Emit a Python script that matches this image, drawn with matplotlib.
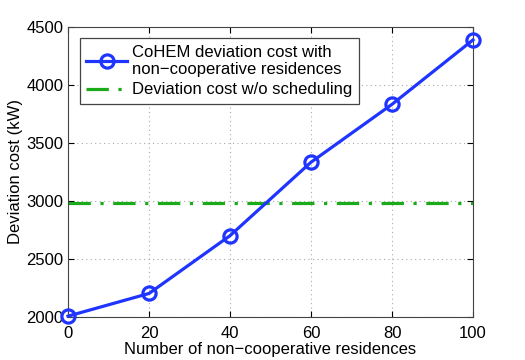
import numpy as np
import matplotlib
matplotlib.use("Agg")
import matplotlib.pyplot as plt

plt.rcParams['font.family'] = ['Liberation Sans', 'DejaVu Sans']

n_noncoop = [0, 20, 40, 60, 80, 100]
cohem_cost = [2010, 2205, 2702, 3334, 3832, 4386]
baseline_cost = 2985

fig = plt.figure(figsize=(5.25, 3.6), dpi=100)
ax = fig.add_axes([0.1295, 0.1186, 0.7715, 0.8074])

ax.plot(n_noncoop, cohem_cost, color='#1f35ff', lw=2.3, marker='o', ms=9.5,
        mfc='none', mew=2.3, label='CoHEM deviation cost with\nnon\u2212cooperative residences',
        clip_on=False, zorder=3)
ax.plot(n_noncoop, [baseline_cost] * len(n_noncoop), color='#1aaa1a', lw=2.3,
        ls=(0, (7, 3, 1, 3)), label='Deviation cost w/o scheduling')

ax.set_xlim(0, 100)
ax.set_ylim(2000, 4500)
ax.set_xticks(n_noncoop)
ax.set_yticks([2000, 2500, 3000, 3500, 4000, 4500])
ax.grid(True, ls=(0, (1, 3)), color='#aaaaaa', lw=0.8)
ax.tick_params(direction='in', top=True, right=True, labelsize=12, length=4)
ax.tick_params(axis='x', pad=6)
for s in ax.spines.values():
    s.set_color('#444444')
ax.set_xlabel('Number of non\u2212cooperative residences', fontsize=12, labelpad=1)
ax.set_ylabel('Deviation cost (kW)', fontsize=12, labelpad=2)

leg = ax.legend(loc='upper left', fontsize=12, fancybox=False, framealpha=1,
                edgecolor='#444444', borderaxespad=0.7, handlelength=2.45,
                labelspacing=0.3, borderpad=0.4, handletextpad=0.3)
leg.get_frame().set_linewidth(0.9)

fig.savefig('out.png', dpi=100)
